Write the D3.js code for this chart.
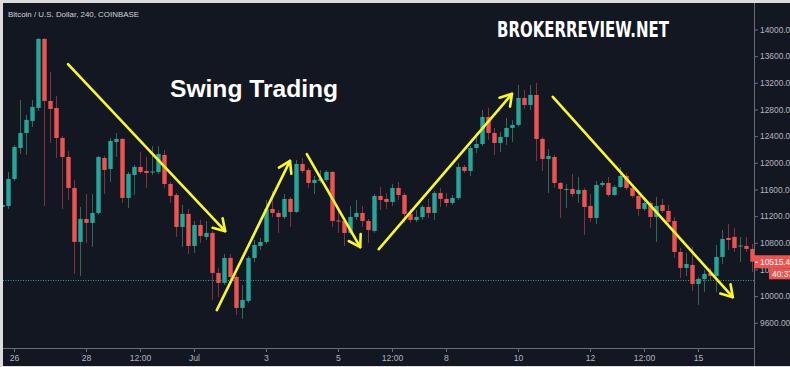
<!DOCTYPE html>
<html><head><meta charset="utf-8">
<script src="https://cdn.jsdelivr.net/npm/d3@7"></script>
<style>html,body{margin:0;padding:0;background:#dcdcdc;overflow:hidden}svg{display:block}</style>
</head><body><svg id="c" width="790" height="367"></svg>
<script>
// ---- data: 4h candles, BTC/USD Coinbase, first candle 2019-06-25 16:00 UTC ----
const firstCandle = Date.UTC(2019, 5, 25, 16);
const opens = [11338,11353,11758,12223,12448,12628,12823,13858,12928,12823,
12373,12088,11623,10813,11158,11098,11248,12073,11908,12313,
12358,11473,11818,11938,11878,11855,11863,12118,11683,11518,
11038,11233,10753,11068,10888,10948,10348,10198,10573,10288,
9823,9928,10573,10753,10813,11308,11248,11188,11458,11263,
11983,11893,11698,11728,11743,11863,11135,11128,10948,11188,
11248,11128,10978,11503,11458,11413,11623,11518,11233,11143,
11188,11338,11248,11548,11458,11398,11473,11938,11878,12223,
12283,12688,12448,12298,12388,12523,12568,12973,12868,13018,
12358,12058,12088,11698,11593,11608,11533,11593,11353,11173,
11668,11698,11518,11638,11803,11623,11503,11308,11398,11188,
11368,11278,11128,10663,10423,10468,10183,10258,10348,10303,
10588,10873,10888,10745,10753,10708];
const highs = [11443,11863,12268,12943,12718,12943,13873,13873,13363,13003,
12403,12178,11743,11338,11533,11533,12103,12103,12373,12448,
12373,11863,11968,12163,12088,12253,12253,12193,11713,11548,
11368,11308,11128,11143,11128,10978,10423,10633,10633,10318,
10168,10603,10843,10873,11443,11578,11293,11533,11488,12043,
12073,11923,11803,11893,11893,11878,11263,11173,11353,11443,
11353,11158,11533,11638,11548,11683,11713,11548,11308,11293,
11368,11458,11578,11623,11548,11518,11998,11968,12253,12403,
12793,12823,12523,12463,12673,12643,13168,13093,13168,13198,
12388,12208,12118,11713,11683,11833,11788,11623,11533,11728,
11728,11788,11668,11938,11848,11653,11533,11458,11428,11488,
11458,11368,11188,10723,10648,10738,10288,10393,10423,10768,
10993,11083,11023,10888,10888,10783];
const lows = [11293,11308,11728,12133,12118,12538,12778,11353,12298,12073,
11308,11443,10333,10303,10798,10738,11218,11533,11713,12088,
11398,11323,11518,11833,11623,11818,11833,11623,11398,10888,
10738,10633,10648,10798,10843,9943,9988,10168,10243,9718,
9658,9898,10513,10693,10783,11188,10948,11158,11038,11248,
11848,11623,11533,11698,11713,11038,10948,10753,10918,11143,
11038,10798,10948,11293,11308,11353,11443,11098,11098,11113,
11143,11173,11143,11338,11338,11368,11443,11848,11803,12148,
12253,12343,12118,12163,12268,12313,12538,12808,12793,12028,
11878,11548,11623,11173,11323,11488,11398,10918,11113,11083,
11638,11488,11503,11623,11593,11473,11203,11278,11023,10813,
11248,11083,10573,10273,10303,10078,9868,10063,10243,10063,
10483,10693,10663,10513,10663,10363];
const closes = [11368,11758,12238,12448,12643,12838,13858,12928,12808,12373,
12088,11623,10813,11158,11098,11248,12088,11893,12328,12358,
11473,11833,11938,11863,11848,11870,12133,11683,11503,11038,
11233,10753,11068,10903,10948,10348,10198,10573,10288,9823,
9943,10573,10768,10813,11308,11248,11188,11458,11263,11983,
11878,11698,11743,11758,11863,11128,11120,10948,11188,11248,
11128,10993,11503,11443,11413,11623,11518,11233,11143,11188,
11338,11248,11548,11458,11398,11473,11938,11878,12223,12283,
12688,12448,12298,12388,12523,12568,12973,12868,13018,12358,
12058,12103,11698,11608,11608,11533,11593,11338,11173,11668,
11698,11518,11638,11803,11623,11503,11308,11398,11188,11353,
11278,11113,10663,10423,10483,10183,10258,10333,10303,10588,
10858,10843,10723,10760,10708,10515.45];

const priceTicks = [9600,10000,10400,10800,11200,11600,12000,12400,12800,13200,13600,14000];
const timeTickDates = [Date.UTC(2019,5,26),Date.UTC(2019,5,28),Date.UTC(2019,5,29,12),Date.UTC(2019,6,1),
  Date.UTC(2019,6,3),Date.UTC(2019,6,5),Date.UTC(2019,6,6,12),Date.UTC(2019,6,8),
  Date.UTC(2019,6,10),Date.UTC(2019,6,12),Date.UTC(2019,6,13,12),Date.UTC(2019,6,15)];
const timeTickLabels = ["26","28","12:00","Jul","3","5","12:00","8","10","12","12:00","15"];

// swing arrows: candle offsets (4h steps from 2019-06-26 00:00) and prices
const arrowFromStep = [9, 33.8, 48.8, 60.8, 89.8];
const arrowFromPrice = [13480, 9790, 12130, 10705, 12990];
const arrowToStep = [35.2, 46, 57.7, 83, 119.8];
const arrowToPrice = [10975, 12030, 10735, 13035, 9985];

const lastPrice = 10515.45;
const lineLevel = 10242;

// ---- layout ----
const svg = d3.select("#c");
const W = 790, H = 367;
const plotL = 3, plotT = 3, plotR = 754, plotB = 348;
const H4 = 4*3600*1000;
const day0 = Date.UTC(2019,5,26);

const x = d3.scaleUtc().domain([day0, Date.UTC(2019,6,16)]).range([14, 734]);
const y = d3.scaleLinear().domain([9600, 14000]).range([322.8, 29.5]);

svg.append("rect").attr("x",plotL).attr("y",plotT).attr("width",W-plotL).attr("height",366-plotT).attr("fill","#131722");

const defs = svg.append("defs");
defs.append("clipPath").attr("id","plotclip").append("rect")
  .attr("x",plotL).attr("y",plotT).attr("width",plotR-plotL).attr("height",plotB-plotT);

const plot = svg.append("g").attr("clip-path","url(#plotclip)");

// dotted level line
plot.append("line").attr("x1",plotL).attr("x2",plotR)
  .attr("y1",Math.round(y(lineLevel))+0.5).attr("y2",Math.round(y(lineLevel))+0.5)
  .attr("stroke","#26a69a").attr("stroke-width",1).attr("stroke-dasharray","1,1.5");

const candles = opens.map((o,i)=>({t:firstCandle+i*H4,o,h:highs[i],l:lows[i],c:closes[i]}));
const upBody="#26a69a", dnBody="#ef5350", upWick="#336854", dnWick="#7f323f";
const bw = 4.4;

plot.append("g").selectAll("line").data(candles).join("line")
  .attr("x1",d=>Math.round(x(d.t))+0.5).attr("x2",d=>Math.round(x(d.t))+0.5)
  .attr("y1",d=>y(d.h)).attr("y2",d=>y(d.l))
  .attr("stroke",d=>d.c>=d.o?upWick:dnWick).attr("stroke-width",1);

plot.append("g").selectAll("rect").data(candles).join("rect")
  .attr("x",d=>Math.round(x(d.t))+0.5-bw/2)
  .attr("y",d=>y(Math.max(d.o,d.c)))
  .attr("width",bw)
  .attr("height",d=>Math.max(1,Math.abs(y(d.o)-y(d.c))))
  .attr("fill",d=>d.c>=d.o?upBody:dnBody);

// arrows
const yellow="#f9f72e";
const arrows = arrowFromStep.map((s,i)=>({
  x1:x(day0+s*H4), y1:y(arrowFromPrice[i]), x2:x(day0+arrowToStep[i]*H4), y2:y(arrowToPrice[i])}));
const ag = plot.append("g").attr("fill","none").attr("stroke",yellow).attr("stroke-width",2.6).attr("stroke-linecap","round").attr("stroke-linejoin","round");
arrows.forEach(a=>{
  ag.append("line").attr("x1",a.x1).attr("y1",a.y1).attr("x2",a.x2).attr("y2",a.y2);
  const ang = Math.atan2(a.y1-a.y2, a.x1-a.x2), L=13, sp=32*Math.PI/180;
  const p1=[a.x2+L*Math.cos(ang+sp), a.y2+L*Math.sin(ang+sp)];
  const p2=[a.x2+L*Math.cos(ang-sp), a.y2+L*Math.sin(ang-sp)];
  ag.append("path").attr("d",`M${p1[0]},${p1[1]}L${a.x2},${a.y2}L${p2[0]},${p2[1]}`);
});

// frame lines
svg.append("line").attr("x1",plotR+0.5).attr("x2",plotR+0.5).attr("y1",plotT).attr("y2",366).attr("stroke","#6a6d78");
svg.append("line").attr("x1",plotL).attr("x2",plotR).attr("y1",plotB+0.5).attr("y2",plotB+0.5).attr("stroke","#6a6d78");

// price axis
const fontFam = "'Liberation Sans', Arial, sans-serif";
const ya = svg.append("g").attr("transform",`translate(${plotR},0)`)
  .call(d3.axisRight(y).tickValues(priceTicks).tickFormat(d3.format(".2f")).tickSize(4).tickPadding(2));
ya.select(".domain").remove();
ya.selectAll("line").attr("stroke","#6a6d78");
ya.selectAll("text").attr("fill","#b2b5be").style("font-family",fontFam).style("font-size","8.4px");

// time axis
const xa = svg.append("g").attr("transform",`translate(0,${plotB})`)
  .call(d3.axisBottom(x).tickValues(timeTickDates).tickFormat((d,i)=>timeTickLabels[i]).tickSize(4).tickPadding(3));
xa.select(".domain").remove();
xa.selectAll("line").attr("stroke","#6a6d78");
xa.selectAll("text").attr("fill","#b2b5be").style("font-family",fontFam).style("font-size","8.6px");

// last price label
const ly = y(lastPrice);
svg.append("rect").attr("x",plotR).attr("y",ly-6.5).attr("width",W-plotR).attr("height",13).attr("fill","#ef5350");
svg.append("line").attr("x1",plotR+1).attr("x2",plotR+4).attr("y1",ly+0.5).attr("y2",ly+0.5).attr("stroke","#fff");
svg.append("text").attr("x",plotR+6).attr("y",ly).attr("dy","0.35em").text(d3.format(".2f")(lastPrice))
  .attr("fill","#fff").style("font-family",fontFam).style("font-size","8.4px");
svg.append("rect").attr("x",769).attr("y",ly+6.5).attr("width",W-769).attr("height",11).attr("fill","#ef5350");
svg.append("text").attr("x",772).attr("y",ly+12).attr("dy","0.35em").text("40:37")
  .attr("fill","#fff").style("font-family",fontFam).style("font-size","8.4px");

// texts
svg.append("text").attr("x",8).attr("y",17).text("Bitcoin / U.S. Dollar, 240, COINBASE")
  .attr("fill","#d1d4dc").style("font-family",fontFam).style("font-size","8px").attr("textLength",131).attr("lengthAdjust","spacingAndGlyphs");
svg.append("text").attr("x",170).attr("y",97).text("Swing Trading")
  .attr("fill","#ffffff").style("font-family",fontFam).style("font-weight","bold").style("font-size","24.6px");
svg.append("text").attr("x",497).attr("y",37).text("BROKERREVIEW.NET")
  .attr("fill","#ffffff").style("font-family","'DejaVu Sans Condensed','DejaVu Sans',sans-serif").style("font-weight","bold").style("font-size","21px")
  .attr("textLength",172).attr("lengthAdjust","spacingAndGlyphs");
</script></body></html>
